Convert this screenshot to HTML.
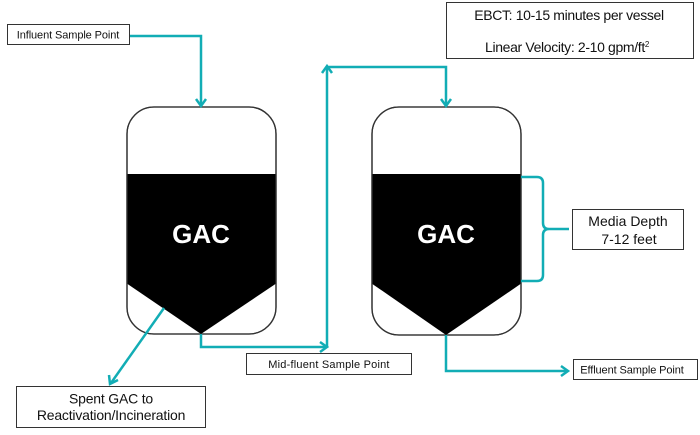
<!DOCTYPE html>
<html><head><meta charset="utf-8"><style>
html,body{margin:0;padding:0;background:#fff;width:700px;height:435px;overflow:hidden}
svg{display:block}
text{font-family:"Liberation Sans",Arial,sans-serif;fill:#111}
</style></head><body>
<svg width="700" height="435" viewBox="0 0 700 435" xmlns="http://www.w3.org/2000/svg">
<defs>
<clipPath id="c1"><rect x="127" y="107" width="149" height="227" rx="27" ry="27"/></clipPath>
<clipPath id="c2"><rect x="372" y="107" width="149" height="228" rx="27" ry="27"/></clipPath>
</defs>
<!-- Vessel 1 -->
<rect x="127" y="107" width="149" height="227" rx="27" ry="27" fill="#fff" stroke="#333" stroke-width="1.3"/>
<polygon clip-path="url(#c1)" points="126,174 277,174 277,283 201,334 126,283" fill="#000"/>
<rect x="127" y="107" width="149" height="227" rx="27" ry="27" fill="none" stroke="#333" stroke-width="1.3"/>
<text x="201" y="243" text-anchor="middle" font-size="26" font-weight="bold" style="fill:#fff">GAC</text>
<!-- Vessel 2 -->
<rect x="372" y="107" width="149" height="228" rx="27" ry="27" fill="#fff" stroke="#333" stroke-width="1.3"/>
<polygon clip-path="url(#c2)" points="371,174 522,174 522,283 446,335 371,283" fill="#000"/>
<rect x="372" y="107" width="149" height="228" rx="27" ry="27" fill="none" stroke="#333" stroke-width="1.3"/>
<text x="446" y="243" text-anchor="middle" font-size="26" font-weight="bold" style="fill:#fff">GAC</text>

<g fill="none" stroke="#12adb5" stroke-width="2.5" stroke-linejoin="miter">
<!-- influent -->
<path d="M129,36 H201 V105"/>
<path d="M196,99 L201,106 L206,99"/>
<!-- mid to vertical -->
<path d="M201,334 V347 H326"/>
<path d="M320,342 L327,347 L320,352"/>
<path d="M327,347 V66"/>
<path d="M322,73 L327,66 L332,73"/>
<path d="M327,67 H446 V105"/>
<path d="M441,99 L446,106 L451,99"/>
<!-- spent -->
<path d="M164,308 L111,383"/>
<path d="M109,375 L110,384 L118,380"/>
<!-- effluent -->
<path d="M446,335 V371 H568"/>
<path d="M561,366 L568,371 L561,376"/>
<!-- bracket -->
<path d="M521,177 H537 Q543,177 543,183 V223 Q543,229 549,229 H569 M549,229 Q543,229 543,235 V275 Q543,281 537,281 H521"/>
</g>

<!-- boxes -->
<rect x="7.5" y="24.5" width="122" height="20" fill="#fff" stroke="#333" stroke-width="1"/>
<text x="68" y="38.5" text-anchor="middle" font-size="11" letter-spacing="-0.1">Influent Sample Point</text>

<rect x="446.5" y="2.5" width="247" height="56" fill="#fff" stroke="#333" stroke-width="1"/>
<text x="569" y="20" text-anchor="middle" font-size="14" letter-spacing="-0.35">EBCT: 10-15 minutes per vessel</text>
<text x="567" y="52" text-anchor="middle" font-size="14" letter-spacing="-0.35">Linear Velocity: 2-10 gpm/ft<tspan font-size="8" dy="-5">2</tspan></text>

<rect x="572.5" y="209.5" width="111" height="40" fill="#fff" stroke="#333" stroke-width="1"/>
<text x="628" y="226" text-anchor="middle" font-size="14">Media Depth</text>
<text x="629" y="244" text-anchor="middle" font-size="14">7-12 feet</text>

<rect x="246.5" y="353.5" width="165" height="21" fill="#fff" stroke="#333" stroke-width="1"/>
<text x="329" y="368" text-anchor="middle" font-size="11" letter-spacing="0.2">Mid-fluent  Sample Point</text>

<rect x="573.5" y="359.5" width="124" height="20" fill="#fff" stroke="#333" stroke-width="1"/>
<text x="632" y="373.5" text-anchor="middle" font-size="11" letter-spacing="-0.1">Effluent Sample Point</text>

<rect x="16.5" y="386.5" width="189" height="41" fill="#fff" stroke="#333" stroke-width="1"/>
<text x="111" y="403.5" text-anchor="middle" font-size="14" letter-spacing="-0.2">Spent GAC to</text>
<text x="111" y="420" text-anchor="middle" font-size="14" letter-spacing="-0.2">Reactivation/Incineration</text>
</svg>
</body></html>
